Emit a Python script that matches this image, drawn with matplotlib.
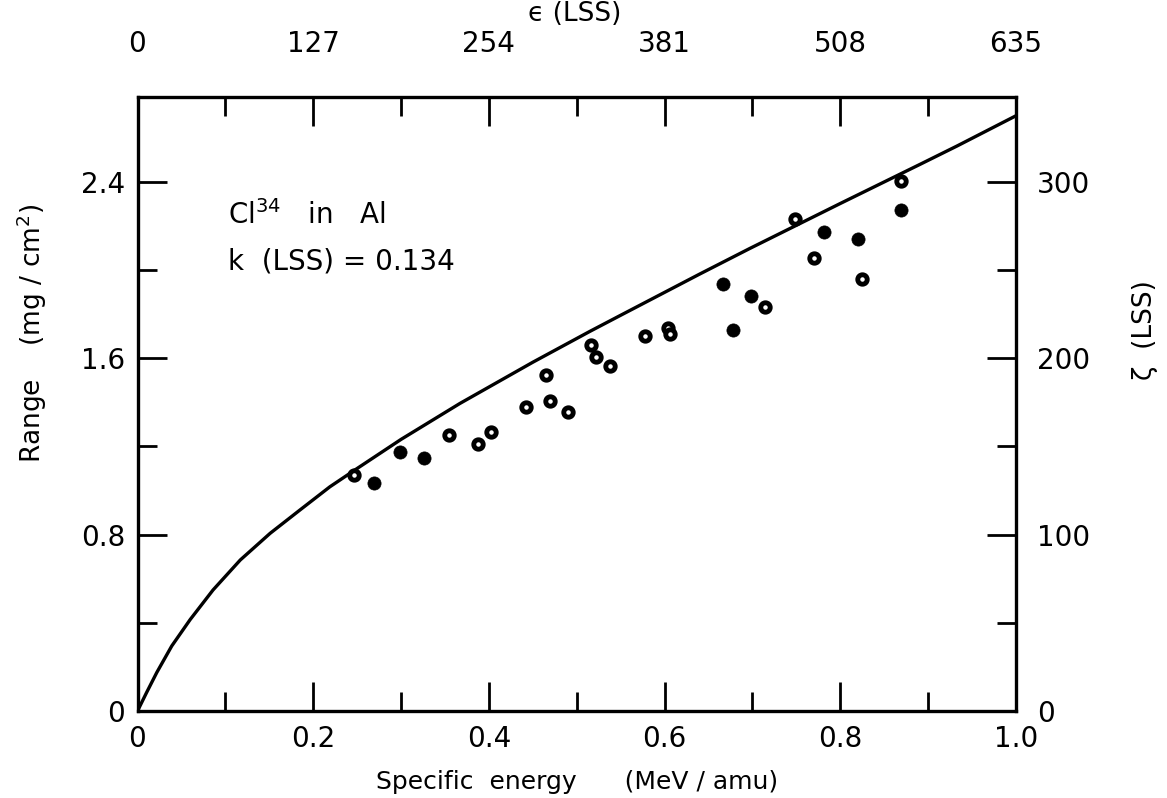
import matplotlib.pyplot as plt
from matplotlib.ticker import MultipleLocator

# measured ranges, open (ringed) symbols
energy_open = [0.247, 0.355, 0.388, 0.402, 0.442, 0.465, 0.469, 0.490,
               0.516, 0.522, 0.538, 0.578, 0.604, 0.606, 0.714, 0.748,
               0.770, 0.825, 0.869]
range_open = [1.071, 1.253, 1.212, 1.265, 1.379, 1.523, 1.405, 1.356,
              1.659, 1.607, 1.564, 1.701, 1.738, 1.712, 1.833, 2.230,
              2.053, 1.959, 2.405]

# measured ranges, solid symbols
energy_solid = [0.269, 0.299, 0.326, 0.666, 0.678, 0.698, 0.781, 0.820, 0.869]
range_solid = [1.033, 1.174, 1.147, 1.939, 1.730, 1.883, 2.173, 2.142, 2.271]

# LSS theory curve
curve_energy = [0.0, 0.0105, 0.022, 0.039, 0.060, 0.086, 0.117, 0.151, 0.185,
                0.219, 0.250, 0.300, 0.367, 0.450, 0.515, 0.550, 0.640,
                0.697, 0.800, 0.891, 0.933, 1.0]
curve_range = [0.0, 0.085, 0.175, 0.295, 0.415, 0.549, 0.685, 0.806, 0.912,
               1.017, 1.100, 1.232, 1.395, 1.582, 1.722, 1.795, 1.982,
               2.098, 2.302, 2.480, 2.563, 2.70]

EPS_PER_MEV = 635.0
ZETA_PER_RANGE = 125.0

plt.rcParams['font.family'] = 'DejaVu Sans'

fig = plt.figure(figsize=(11.67, 7.98), dpi=100)
ax = fig.add_axes([137.5 / 1167, 1 - 711 / 798, (1016 - 137.5) / 1167, (711 - 97) / 798])

ax.plot(curve_energy, curve_range, color='black', lw=2.4)
ax.plot(energy_open, range_open, 'o', ms=6.8, mfc='white', mec='black', mew=3.5)
ax.plot(energy_solid, range_solid, 'o', ms=9.5, mfc='black', mec='black', mew=0.5)

ax.set_xlim(0, 1.0)
ax.set_ylim(0, 2.785)

for s in ax.spines.values():
    s.set_linewidth(2.4)

ax.xaxis.set_minor_locator(MultipleLocator(0.1))
ax.yaxis.set_minor_locator(MultipleLocator(0.4))
ax.set_xticks([0, 0.2, 0.4, 0.6, 0.8, 1.0])
ax.set_xticklabels(['0', '0.2', '0.4', '0.6', '0.8', '1.0'])
ax.set_yticks([0, 0.8, 1.6, 2.4])
ax.set_yticklabels(['0', '0.8', '1.6', '2.4'])
ax.tick_params(which='major', direction='in', length=21, width=2, labelsize=20)
ax.tick_params(axis='x', which='major', pad=10)
ax.tick_params(axis='y', which='major', pad=9)
ax.tick_params(which='minor', direction='in', length=14, width=2)

ax.set_xlabel('Specific  energy      (MeV / amu)', fontsize=18, labelpad=12)

top = ax.secondary_xaxis('top', functions=(lambda x: x * EPS_PER_MEV, lambda e: e / EPS_PER_MEV))
top.set_xticks([0, 127, 254, 381, 508, 635])
top.set_xticklabels(['0', '127', '254', '381', '508', '635'])
top.xaxis.set_minor_locator(MultipleLocator(63.5))
top.tick_params(which='major', direction='in', length=21, width=2, labelsize=20, pad=28)
top.tick_params(which='minor', direction='in', length=14, width=2)

right = ax.secondary_yaxis('right', functions=(lambda r: r * ZETA_PER_RANGE, lambda z: z / ZETA_PER_RANGE))
right.set_yticks([0, 100, 200, 300])
right.set_yticklabels(['0', '100', '200', '300'])
right.yaxis.set_minor_locator(MultipleLocator(50))
right.tick_params(which='major', direction='in', length=21, width=2, labelsize=20, pad=15)
right.tick_params(which='minor', direction='in', length=14, width=2)

# axis titles placed where they sit in the original figure
fig.text(575 / 1167, 1 - 14 / 798, '\u03f5 (LSS)', fontsize=19, ha='center', va='center')
fig.text(1145 / 1167, 1 - 330 / 798, '\u03b6  (LSS)', fontsize=19, rotation=90,
         ha='center', va='center')
fig.text(32 / 1167, 1 - 333 / 798, 'Range    (mg / cm$^{2}$)', fontsize=19, rotation=90,
         ha='center', va='center')

ax.text(0.103, 2.25, 'Cl$^{34}$   in   Al', fontsize=20, va='center')
ax.text(0.103, 2.04, 'k  (LSS) = 0.134', fontsize=20, va='center')

fig.savefig('out.png', dpi=100)
